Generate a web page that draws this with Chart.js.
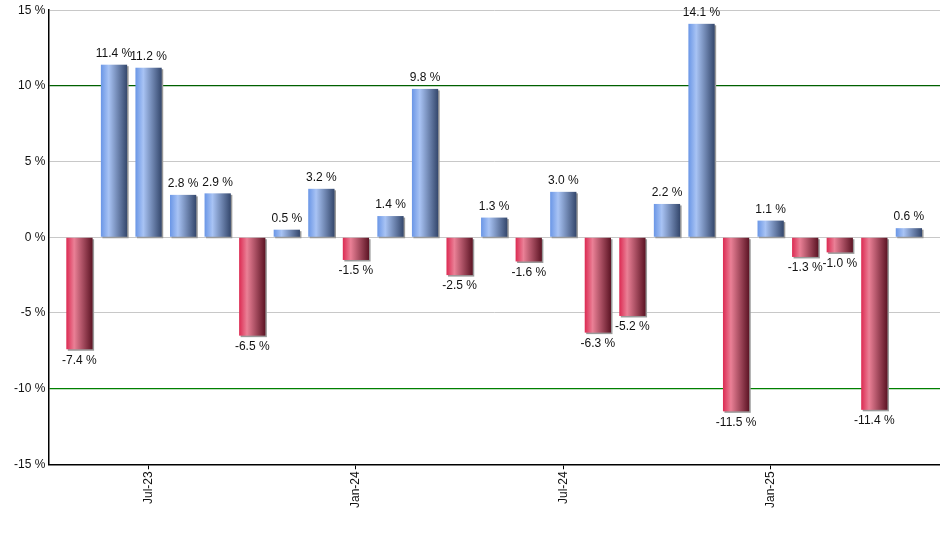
<!DOCTYPE html>
<html>
<head>
<meta charset="utf-8">
<script src="https://cdn.jsdelivr.net/npm/chart.js@4"></script>
<style>
  html, body { margin: 0; padding: 0; background: #fff; }
  #wrap { width: 940px; height: 550px; }
</style>
</head>
<body>
<div id="wrap"><canvas id="monthlyReturns" width="940" height="550"></canvas></div>
<script>
// Lợi nhuận theo tháng (%)
const months = ['May-23', 'Jun-23', 'Jul-23', 'Aug-23', 'Sep-23', 'Oct-23', 'Nov-23', 'Dec-23',
  'Jan-24', 'Feb-24', 'Mar-24', 'Apr-24', 'May-24', 'Jun-24', 'Jul-24', 'Aug-24', 'Sep-24',
  'Oct-24', 'Nov-24', 'Dec-24', 'Jan-25', 'Feb-25', 'Mar-25', 'Apr-25', 'May-25'];
const returns = [-7.4, 11.4, 11.2, 2.8, 2.9, -6.5, 0.5, 3.2, -1.5, 1.4, 9.8, -2.5, 1.3, -1.6,
  3.0, -6.3, -5.2, 2.2, 14.1, -11.5, 1.1, -1.3, -1.0, -11.4, 0.6];
const tickMonths = ['Jul-23', 'Jan-24', 'Jul-24', 'Jan-25'];
const yTicks = [-15, -10, -5, 0, 5, 10, 15];

const points = returns.map((v, i) => ({ x: i, y: v }));

// vẽ cột bằng gradient ngang + bóng (cột gốc để trong suốt)
const barStyle = {
  id: 'barStyle',
  beforeDatasetsDraw(chart) {
    const c = chart.ctx;
    chart.getDatasetMeta(0).data.forEach((bar, i) => {
      const left = bar.x - bar.width / 2, right = bar.x + bar.width / 2;
      const top = Math.min(bar.y, bar.base), h = Math.abs(bar.base - bar.y);
      const g = c.createLinearGradient(left, 0, right, 0);
      if (returns[i] >= 0) {
        g.addColorStop(0, '#6a96e6');
        g.addColorStop(0.3, '#a8c3f4');
        g.addColorStop(1, '#34476c');
      } else {
        g.addColorStop(0, '#dc2a52');
        g.addColorStop(0.3, '#ea8096');
        g.addColorStop(1, '#5c1424');
      }
      c.save();
      c.fillStyle = '#9a9a9a';
      c.fillRect(left + 1.5, top + 1.5, bar.width, h);
      c.fillStyle = g;
      c.fillRect(left, top, bar.width, h);
      c.restore();
    });
  },
  afterDatasetsDraw(chart) {
    const c = chart.ctx;
    c.save();
    c.font = '12px "Liberation Sans", Arial, sans-serif';
    c.fillStyle = '#111';
    c.textAlign = 'center';
    chart.getDatasetMeta(0).data.forEach((bar, i) => {
      const v = returns[i];
      const txt = v.toFixed(1) + ' %';
      if (v >= 0) {
        c.textBaseline = 'bottom';
        c.fillText(txt, bar.x, bar.y - 5);
      } else {
        c.textBaseline = 'top';
        c.fillText(txt, bar.x, bar.y + 5);
      }
    });
    c.restore();
  }
};

new Chart(document.getElementById('monthlyReturns').getContext('2d'), {
  type: 'bar',
  data: {
    datasets: [{
      data: points,
      backgroundColor: 'rgba(0,0,0,0)',
      borderWidth: 0,
      barPercentage: 0.76,
      categoryPercentage: 1
    }]
  },
  plugins: [barStyle],
  options: {
    responsive: false,
    animation: false,
    layout: { padding: { top: 3, right: 0, bottom: 40, left: 11 } },
    plugins: { legend: { display: false }, tooltip: { enabled: false } },
    scales: {
      x: {
        type: 'linear',
        offset: false,
        min: -0.9,
        max: 24.9,
        afterBuildTicks: (axis) => {
          axis.ticks = tickMonths.map(m => ({ value: months.indexOf(m) }));
        },
        ticks: {
          autoSkip: false,
          minRotation: 90,
          maxRotation: 90,
          color: '#111',
          font: { size: 12, family: '"Liberation Sans", Arial, sans-serif' },
          padding: 2,
          callback: (v) => months[v]
        },
        grid: { offset: false, drawOnChartArea: false, drawTicks: true, tickLength: 5, color: '#000' },
        border: { color: '#000', width: 1.5 }
      },
      y: {
        min: -15,
        max: 15,
        afterBuildTicks: (axis) => { axis.ticks = yTicks.map(v => ({ value: v })); },
        ticks: {
          color: '#111',
          font: { size: 12, family: '"Liberation Sans", Arial, sans-serif' },
          padding: 3,
          callback: (v) => v + ' %'
        },
        grid: {
          drawTicks: false,
          color: (ctx) => ctx.tick.value === 10 ? '#006000' : (ctx.tick.value === -10 ? '#008000' : '#c8c8c8'),
          lineWidth: (ctx) => (ctx.tick.value === 10 || ctx.tick.value === -10) ? 1.2 : 1
        },
        border: { color: '#000', width: 1.5 }
      }
    }
  }
});
</script>
</body>
</html>
